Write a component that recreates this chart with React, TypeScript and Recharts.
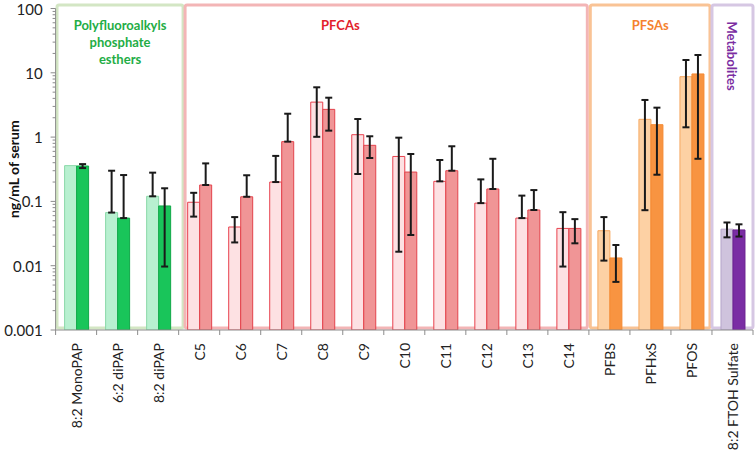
import { BarChart, Bar, XAxis, YAxis, Cell, ErrorBar, ReferenceArea, Label } from "recharts";

const compounds = [
  "8:2 MonoPAP", "6:2 diPAP", "8:2 diPAP",
  "C5", "C6", "C7", "C8", "C9", "C10", "C11", "C12", "C13", "C14",
  "PFBS", "PFHxS", "PFOS",
  "8:2 FTOH Sulfate",
];

// first series (light bars) and its error range
const lightValues = [0.36, 0.067, 0.12, 0.097, 0.04, 0.2, 3.5, 1.09, 0.5, 0.205, 0.094, 0.055, 0.038, 0.035, 1.89, 8.7, 0.037];
const lightHigh = [null, 0.3, 0.28, 0.136, 0.057, 0.51, 5.95, 1.91, 0.98, 0.44, 0.22, 0.123, 0.068, 0.057, 3.78, 15.8, 0.047];
const lightLow = [null, 0.067, 0.12, 0.058, 0.023, 0.2, 1.01, 0.267, 0.0165, 0.205, 0.094, 0.055, 0.0097, 0.012, 0.073, 1.42, 0.0276];

// second series (dark bars) and its error range
const darkValues = [0.355, 0.055, 0.085, 0.18, 0.118, 0.85, 2.7, 0.745, 0.286, 0.3, 0.156, 0.0735, 0.038, 0.0132, 1.56, 9.6, 0.036];
const darkHigh = [0.38, 0.257, 0.16, 0.39, 0.255, 2.31, 4.1, 1.03, 0.546, 0.72, 0.46, 0.15, 0.053, 0.021, 2.87, 18.9, 0.044];
const darkLow = [0.33, 0.055, 0.0097, 0.18, 0.118, 0.85, 1.26, 0.473, 0.03, 0.3, 0.156, 0.0735, 0.0223, 0.0056, 0.26, 0.46, 0.0284];

const groupNames = ["pfap", "pfca", "pfsa", "meta"];
const groupTitles = [["Polyfluoroalkyls", "phosphate", "esthers"], ["PFCAs"], ["PFSAs"], ["Metabolites"]];
const groupFirst = ["8:2 MonoPAP", "C5", "PFBS", "8:2 FTOH Sulfate"];
const groupLast = ["8:2 diPAP", "C14", "PFOS", "8:2 FTOH Sulfate"];
const groupOf = [0, 0, 0, 1, 1, 1, 1, 1, 1, 1, 1, 1, 1, 2, 2, 2, 3];

const majorTicks = [0.001, 0.01, 0.1, 1, 10, 100];
const yTicks = majorTicks.flatMap((t, i) =>
  i === majorTicks.length - 1 ? [t] : [1, 2, 3, 4, 5, 6, 7, 8, 9].map((m) => t * m)
);

const FONT = "Lato, 'Liberation Sans', sans-serif";
const W = 755;
const H = 450;
const LEFT = 55.6;
const RIGHT_M = 2;
const BAND = (W - LEFT - RIGHT_M) / compounds.length;

const palette: Record<string, any> = {
  pfap: { lf: "#b8f0d0", ls: "#8ad8a8", df: "#19c55a", ds: "#10a848", box: "#d3e6c4", title: "#23ad45", pad: [1.4, -4.4] },
  pfca: { lf: "#fde1e3", ls: "#e8424e", df: "#f09596", ds: "#e3434c", box: "#f3b5b6", title: "#e2202b", pad: [6.4, 1.6], tx: 0.386 },
  pfsa: { lf: "#fdd1a4", ls: "#f6a860", df: "#f89441", ds: "#f58a33", box: "#f9c395", title: "#f5822f", pad: [1.4, 2] },
  meta: { lf: "#cfc3dd", ls: "#b5a5c9", df: "#7a2da4", ds: "#6a2090", box: "#d6c7e3", title: "#7b2ea2", pad: [0, 0] },
};

const data = compounds.map((name, i) => ({
  name,
  light: lightValues[i],
  dark: darkValues[i],
  lightErr: lightHigh[i] == null ? null : [lightValues[i] - (lightLow[i] as number), (lightHigh[i] as number) - lightValues[i]],
  darkErr: [darkValues[i] - darkLow[i], darkHigh[i] - darkValues[i]],
}));

const YTick = (props: any) => {
  const { x, y, payload } = props;
  const v = payload.value;
  const major = Math.abs(Math.log10(v) - Math.round(Math.log10(v))) < 1e-6;
  return (
    <g>
      <line x1={x - (major ? 5 : 3)} x2={x} y1={y} y2={y} stroke="#8c8c8c" strokeWidth={1} />
      {major && (
        <text x={x - 13} y={y} textAnchor="end" dominantBaseline="central" fontSize={15} fill="#222" fontFamily={FONT}>
          {String(v)}
        </text>
      )}
    </g>
  );
};

const XTick = (props: any) => {
  const { x, y, payload, index } = props;
  return (
    <g>
      <line x1={x - BAND / 2} x2={x - BAND / 2} y1={y} y2={y + 5} stroke="#8c8c8c" />
      {index === compounds.length - 1 && <line x1={x + BAND / 2} x2={x + BAND / 2} y1={y} y2={y + 5} stroke="#8c8c8c" />}
      <text
        x={x}
        y={y + 13}
        transform={`rotate(-90 ${x} ${y + 13})`}
        textAnchor="end"
        dominantBaseline="central"
        fontSize={14}
        fill="#222"
        fontFamily={FONT}
      >
        {payload.value}
      </text>
    </g>
  );
};

const groupBox = (g: number) => (props: any) => {
  const { x, y, width, height } = props;
  const p = palette[groupNames[g]];
  const x0 = x + p.pad[0];
  const w = width - p.pad[0] - p.pad[1];
  const lines = groupTitles[g];
  const cx = x0 + w * (p.tx ?? 0.5);
  return (
    <g>
      <rect x={x0} y={y} width={w} height={height - 2} rx={2} fill="none" stroke={p.box} strokeWidth={3} />
      {g === 3 ? (
        <text
          x={cx}
          y={y + 51}
          transform={`rotate(90 ${cx} ${y + 51})`}
          textAnchor="middle"
          dominantBaseline="central"
          fontSize={13}
          fontWeight="bold"
          fill={p.title}
          fontFamily={FONT}
        >
          {lines[0]}
        </text>
      ) : (
        lines.map((t, i) => (
          <text
            key={t}
            x={cx}
            y={y + 20 + i * 17}
            textAnchor="middle"
            dominantBaseline="central"
            fontSize={13}
            fontWeight="bold"
            fill={p.title}
            fontFamily={FONT}
          >
            {t}
          </text>
        ))
      )}
    </g>
  );
};

export default function App() {
  return (
    <div style={{ position: "absolute", left: 0, top: 0, width: W, height: H, background: "#fff" }}>
      <BarChart width={W} height={H} data={data} margin={{ top: 8.5, right: RIGHT_M, left: 0, bottom: 0 }} barSize={12} barGap={0}>
        {groupNames.map((gn, g) => (
          <ReferenceArea
            key={gn}
            x1={groupFirst[g]}
            x2={groupLast[g]}
            y1={0.001}
            y2={113}
            ifOverflow="visible"
            shape={groupBox(g)}
          />
        ))}
        <XAxis
          dataKey="name"
          interval={0}
          height={120}
          tickSize={0}
          tickMargin={0}
          tickLine={false}
          stroke="#8c8c8c"
          tick={<XTick />}
        />
        <YAxis
          scale="log"
          domain={[0.001, 100]}
          allowDataOverflow
          ticks={yTicks}
          interval={0}
          width={LEFT}
          tickSize={0}
          tickMargin={0}
          tickLine={false}
          stroke="#8c8c8c"
          tick={<YTick />}
        >
          <Label
            content={(p: any) => {
              const vb = p.viewBox;
              const cx = vb.x + 13;
              const cy = vb.y + vb.height / 2;
              return (
                <text
                  x={cx}
                  y={cy}
                  transform={`rotate(-90 ${cx} ${cy})`}
                  textAnchor="middle"
                  dominantBaseline="central"
                  fontSize={14}
                  fontWeight="bold"
                  fill="#111"
                  fontFamily={FONT}
                >
                  ng/mL of serum
                </text>
              );
            }}
          />
        </YAxis>
        <Bar dataKey="light" isAnimationActive={false}>
          {data.map((d, i) => {
            const p = palette[groupNames[groupOf[i]]];
            return <Cell key={d.name} fill={p.lf} stroke={p.ls} strokeWidth={1} />;
          })}
          <ErrorBar dataKey="lightErr" width={3.5} strokeWidth={2} stroke="#1a1a1a" />
        </Bar>
        <Bar dataKey="dark" isAnimationActive={false}>
          {data.map((d, i) => {
            const p = palette[groupNames[groupOf[i]]];
            return <Cell key={d.name} fill={p.df} stroke={p.ds} strokeWidth={1} />;
          })}
          <ErrorBar dataKey="darkErr" width={3.5} strokeWidth={2} stroke="#1a1a1a" />
        </Bar>
      </BarChart>
    </div>
  );
}
